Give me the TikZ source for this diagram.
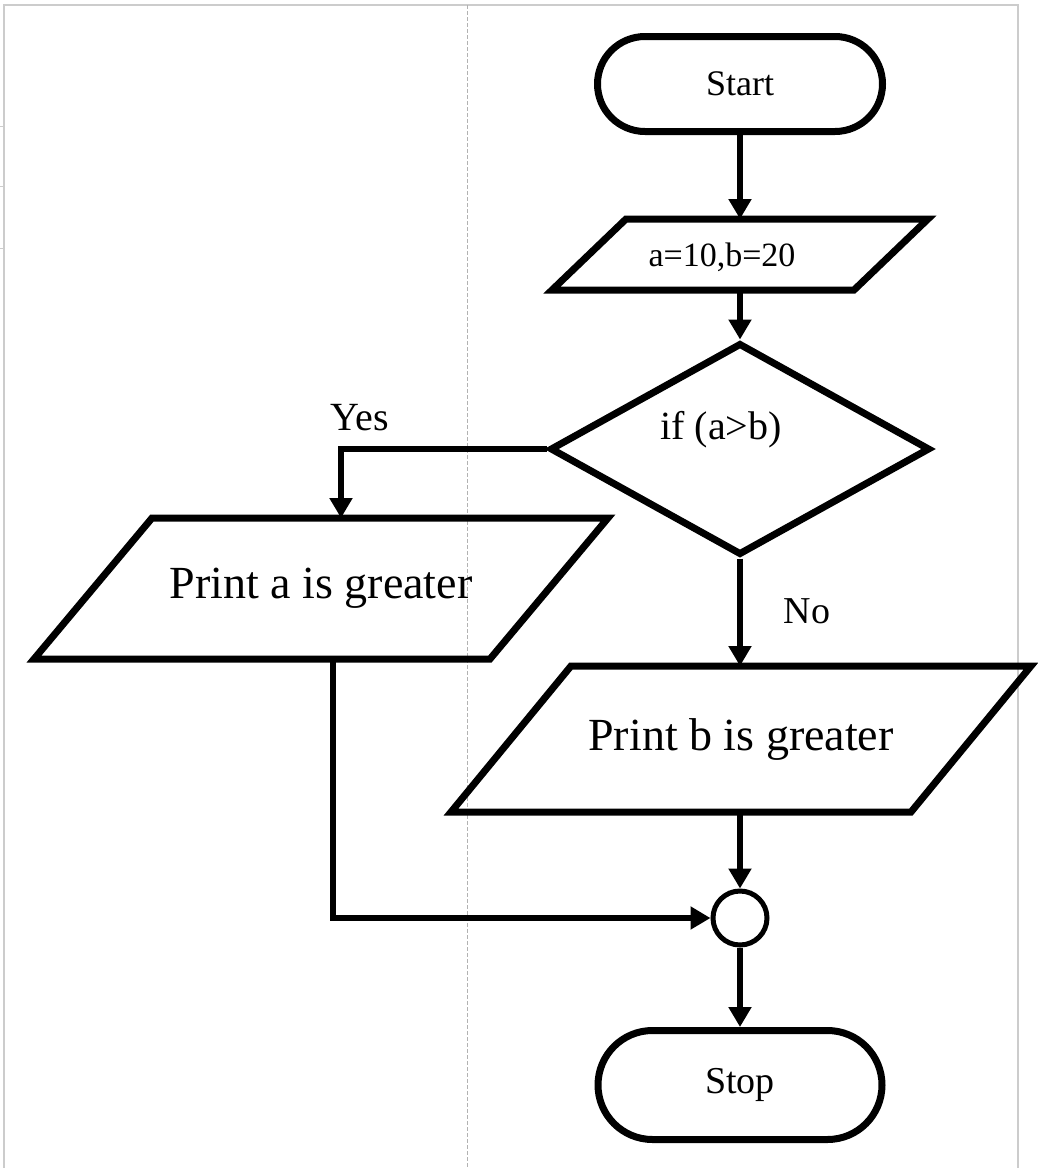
\documentclass[tikz,border=0pt]{standalone}
\usepackage{fontspec}
\setmainfont{Liberation Serif}
\usetikzlibrary{shapes.geometric, shapes.misc, arrows.meta}

\newcommand{\slantbox}[2]{\draw [line width=7pt] ([xshift=#2]#1.north west) -- ([xshift=#2]#1.north east) -- ([xshift=-#2]#1.south east) -- ([xshift=-#2]#1.south west) -- cycle;}

\begin{document}
\begin{tikzpicture}[x=1pt, y=-1pt,
  term/.style={draw, line width=7pt, rounded rectangle, inner sep=0pt},
  io/.style={rectangle, inner sep=0pt, outer sep=0pt},
  decision/.style={draw, line width=7pt, diamond, inner sep=0pt},
  flow/.style={-{Triangle[width=22pt,length=20pt]}, line width=5.5pt},
  frame/.style={gray!40, line width=1.5pt}]
\useasboundingbox (0,0) rectangle (1038,1168);
\draw [frame] (4,1168) -- (4,5) -- (1018,5) -- (1018,1168);
\foreach \y in {126,186,248} \draw [frame, line width=1pt] (0,\y) -- (4,\y);
\draw [gray!60, line width=1pt, dash pattern=on 4pt off 2pt] (467,5) -- (467,1168);
\node [term, minimum width=285pt, minimum height=95pt, font=\fontsize{36}{43}\selectfont] (start) at (740,84) {Start};
\node [io, minimum width=302pt, minimum height=71pt,
  label={[font=\fontsize{34}{41}\selectfont, xshift=-18pt, yshift=-3pt]center:a=10,b=20}] (input) at (740,254.5) {};
\slantbox{input}{37pt}
\node [decision, minimum width=380pt, minimum height=212pt,
  label={[font=\fontsize{40}{48}\selectfont, xshift=-19pt, yshift=19pt]center:if (a>b)}] (decide) at (740,449) {};
\node [io, minimum width=456pt, minimum height=141pt, font=\fontsize{46}{55}\selectfont] (printa) at (321,588.5) {Print a is greater};
\slantbox{printa}{59pt}
\node [io, minimum width=460pt, minimum height=146pt, font=\fontsize{46}{55}\selectfont] (printb) at (741,739) {Print b is greater};
\slantbox{printb}{60pt}
\node [draw, circle, line width=5pt, minimum size=54pt, inner sep=0pt] (join) at (740,918) {};
\node [term, minimum width=284pt, minimum height=109pt, font=\fontsize{38}{46}\selectfont] (stop) at (740,1085) {Stop};
\node [font=\fontsize{40}{48}\selectfont] (yes) at (360,418) {Yes};
\node [font=\fontsize{38}{46}\selectfont] (no) at (807,611) {No};
\draw [flow] (start) -- (input);
\draw [flow] (input) -- (decide);
\draw [flow] (decide.west) -| ([xshift=20pt]printa.north);
\draw [flow] (decide) -- (printb.north -| decide);
\draw [flow] (printb.south -| join) -- (join);
\draw [flow] ([xshift=12pt]printa.south) |- (join.west);
\draw [flow] (join) -- (stop);
\end{tikzpicture}
\end{document}
